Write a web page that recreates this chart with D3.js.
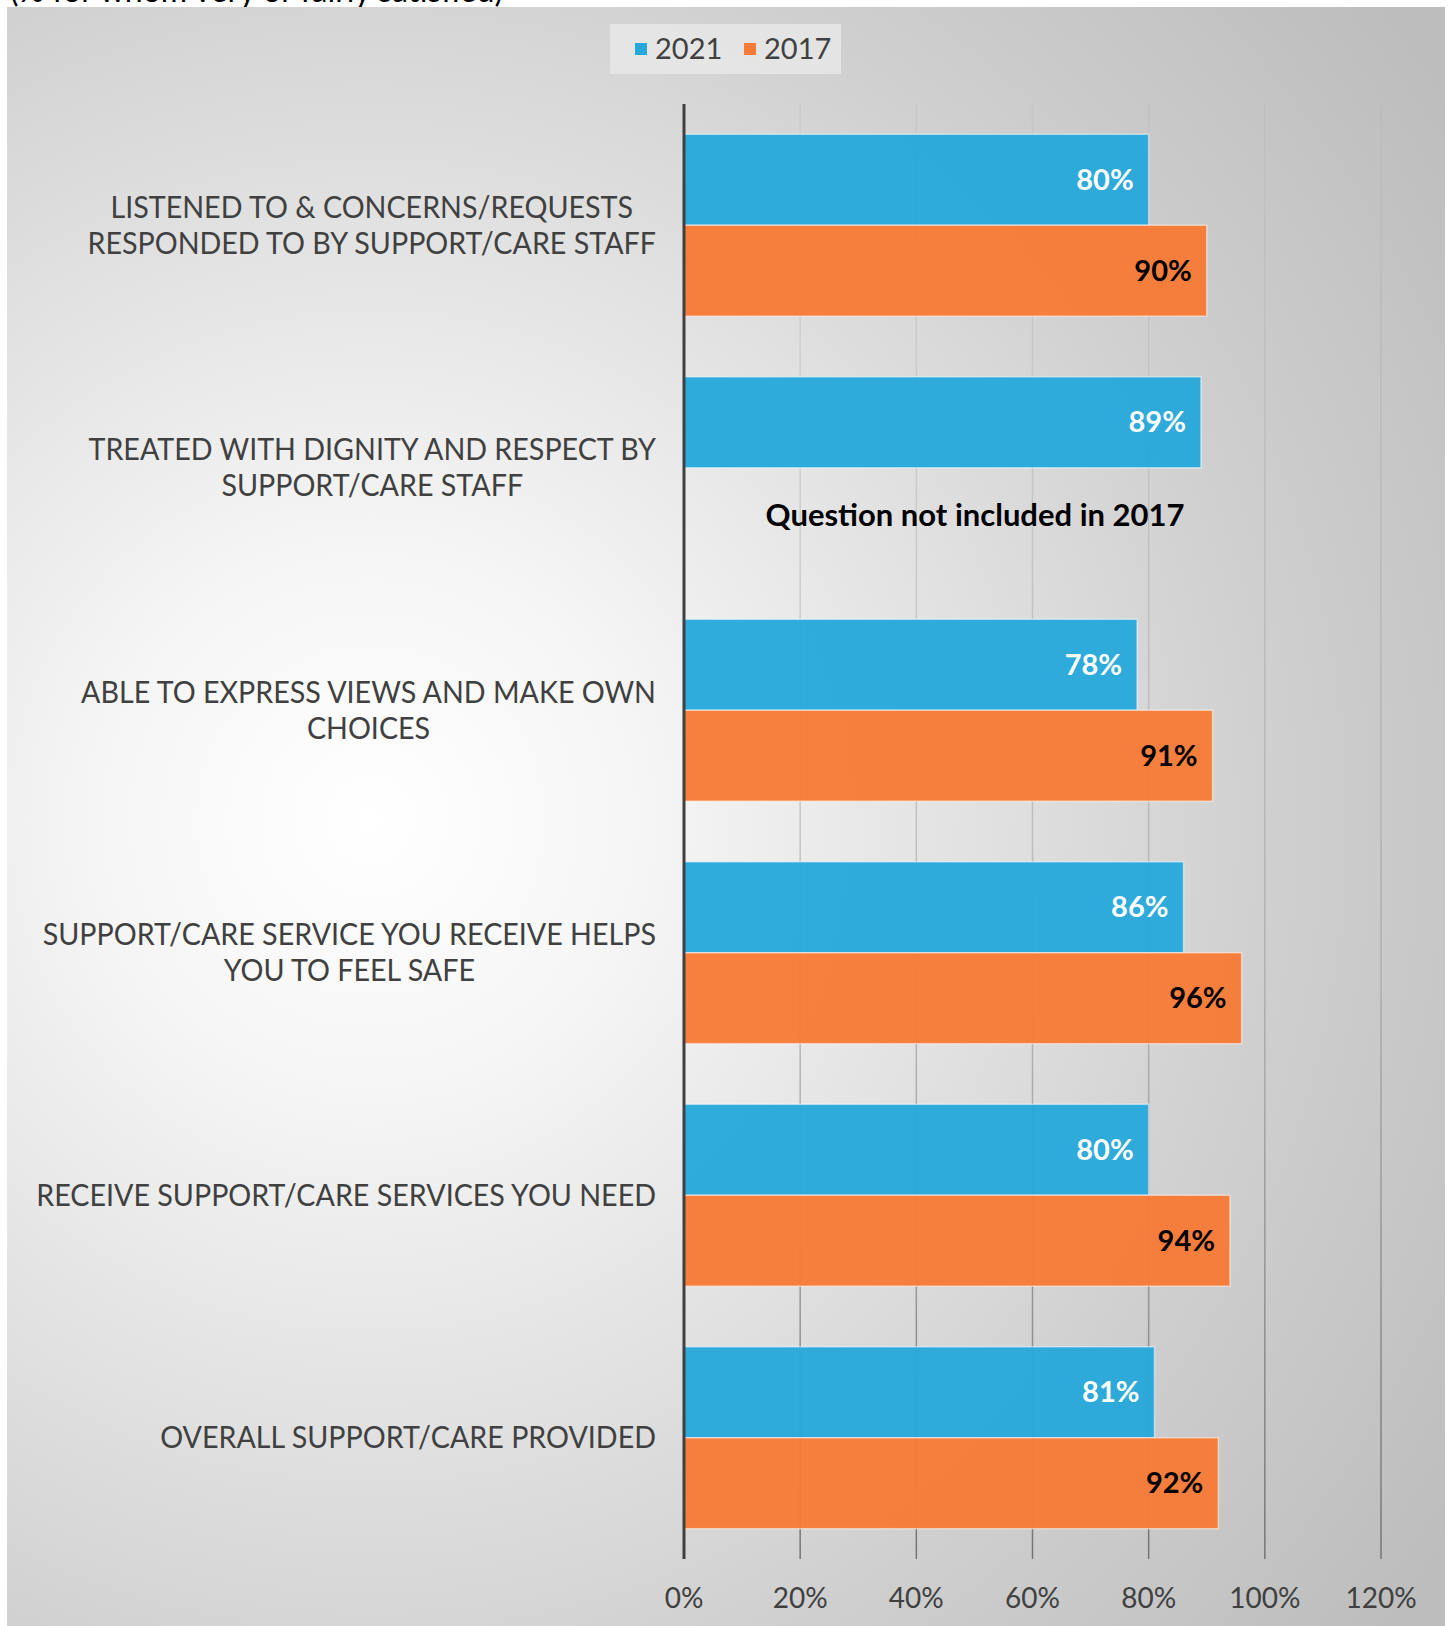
<!DOCTYPE html>
<html>
<head>
<meta charset="utf-8">
<script src="https://cdn.jsdelivr.net/npm/d3@7"></script>
<style>
  body { margin: 0; background: #fff; }
  text { font-family: Lato, "Open Sans", sans-serif; }
</style>
</head>
<body>
<div id="chart"></div>
<script>
// data
var categories = [
  "LISTENED TO & CONCERNS/REQUESTS RESPONDED TO BY SUPPORT/CARE STAFF",
  "TREATED WITH DIGNITY AND RESPECT BY SUPPORT/CARE STAFF",
  "ABLE TO EXPRESS VIEWS AND MAKE OWN CHOICES",
  "SUPPORT/CARE SERVICE YOU RECEIVE HELPS YOU TO FEEL SAFE",
  "RECEIVE SUPPORT/CARE SERVICES YOU NEED",
  "OVERALL SUPPORT/CARE PROVIDED"
];
var seriesNames = ["2021", "2017"];
var values2021 = [0.80, 0.89, 0.78, 0.86, 0.80, 0.81];
var values2017 = [0.90, null, 0.91, 0.96, 0.94, 0.92];
var xTicks = [0, 0.2, 0.4, 0.6, 0.8, 1.0, 1.2];
var missingNote = "Question not included in 2017";
var subtitle = "(% for whom very or fairly satisfied)";

var W = 1451, H = 1626;
var colors = { "2021": "#26a8db", "2017": "#f77b36" };
var labelColors = { "2021": "#ffffff", "2017": "#000000" };

var svg = d3.select("#chart").append("svg")
    .attr("width", W)
    .attr("height", H);

var defs = svg.append("defs");
var bg = defs.append("radialGradient")
    .attr("id", "bg")
    .attr("gradientUnits", "userSpaceOnUse")
    .attr("cx", 370).attr("cy", 820).attr("r", 1300);
bg.append("stop").attr("offset", 0).attr("stop-color", "#ffffff");
bg.append("stop").attr("offset", 0.2).attr("stop-color", "#f6f6f6");
bg.append("stop").attr("offset", 0.7).attr("stop-color", "#cfcfcf");
bg.append("stop").attr("offset", 1).attr("stop-color", "#bdbdbd");

var plotTop = 104, plotBottom = 1559;
var gg = defs.append("linearGradient")
    .attr("id", "grid")
    .attr("gradientUnits", "userSpaceOnUse")
    .attr("x1", 0).attr("y1", plotTop).attr("x2", 0).attr("y2", plotBottom);
gg.append("stop").attr("offset", 0).attr("stop-color", "#a0a0a0").attr("stop-opacity", 0.15);
gg.append("stop").attr("offset", 0.6).attr("stop-color", "#909090").attr("stop-opacity", 0.5);
gg.append("stop").attr("offset", 1).attr("stop-color", "#707070").attr("stop-opacity", 0.95);

// cut-off subtitle above the chart box
svg.append("text")
    .attr("x", 10).attr("y", 2)
    .attr("font-size", 32)
    .attr("fill", "#000")
    .text(subtitle);

svg.append("rect")
    .attr("x", 7).attr("y", 7)
    .attr("width", 1438).attr("height", H - 7)
    .attr("fill", "url(#bg)");

var x = d3.scaleLinear().domain([0, 1.2]).range([684, 1381]);
var y = d3.scaleBand().domain(categories).range([plotTop, plotBottom])
    .paddingInner(0.25).paddingOuter(0.125);
var ySub = d3.scaleBand().domain(seriesNames).range([0, y.bandwidth()]);

// gridlines
svg.append("g").selectAll("line")
  .data(xTicks.filter(function(d) { return d > 0; }))
  .enter().append("line")
    .attr("x1", function(d) { return x(d); })
    .attr("x2", function(d) { return x(d); })
    .attr("y1", plotTop).attr("y2", plotBottom)
    .attr("stroke", "url(#grid)")
    .attr("stroke-width", 1.5);

// bars
var rows = categories.map(function(c, i) {
  return { cat: c, vals: [
    { s: "2021", v: values2021[i] },
    { s: "2017", v: values2017[i] }
  ] };
});

var grp = svg.append("g").selectAll("g")
  .data(rows)
  .enter().append("g")
    .attr("transform", function(d) { return "translate(0," + y(d.cat) + ")"; });

var bar = grp.selectAll("g")
  .data(function(d) { return d.vals.filter(function(v) { return v.v != null; }); })
  .enter().append("g");

bar.append("rect")
    .attr("x", x(0))
    .attr("y", function(d) { return ySub(d.s); })
    .attr("width", function(d) { return x(d.v) - x(0); })
    .attr("height", ySub.bandwidth())
    .attr("fill", function(d) { return colors[d.s]; })
    .attr("fill-opacity", 0.96)
    .attr("stroke", "rgba(255,255,255,0.5)")
    .attr("stroke-width", 1.5);

bar.append("text")
    .attr("x", function(d) { return x(d.v) - 15; })
    .attr("y", function(d) { return ySub(d.s) + ySub.bandwidth() / 2; })
    .attr("dy", "0.35em")
    .attr("text-anchor", "end")
    .attr("font-size", 29)
    .attr("font-weight", "bold")
    .attr("fill", function(d) { return labelColors[d.s]; })
    .text(function(d) { return Math.round(d.v * 100) + "%"; });

// note for the missing 2017 value
rows.forEach(function(r) {
  r.vals.forEach(function(v) {
    if (v.v == null) {
      svg.append("text")
        .attr("x", 975)
        .attr("y", y(r.cat) + ySub(v.s) + ySub.bandwidth() / 2 + 2)
        .attr("dy", "0.35em")
        .attr("text-anchor", "middle")
        .attr("font-size", 31)
        .attr("font-weight", "bold")
        .attr("fill", "#000")
        .text(missingNote);
    }
  });
});

// vertical axis line
svg.append("line")
    .attr("x1", x(0)).attr("x2", x(0))
    .attr("y1", plotTop).attr("y2", plotBottom)
    .attr("stroke", "#404040")
    .attr("stroke-width", 3);

// x tick labels
svg.append("g").selectAll("text")
  .data(xTicks)
  .enter().append("text")
    .attr("x", function(d) { return x(d); })
    .attr("y", 1598)
    .attr("dy", "0.35em")
    .attr("text-anchor", "middle")
    .attr("font-size", 28)
    .attr("fill", "#404040")
    .text(function(d) { return Math.round(d * 100) + "%"; });

// category labels, wrapped, centred inside a right-aligned block
var squeeze = 0.955, maxW = 660, lineH = 36, labelRight = 656, labelSize = 30;
var meas = svg.append("text").attr("font-size", labelSize).attr("opacity", 0);
function tw(s) { meas.text(s); return meas.node().getComputedTextLength(); }

var labG = svg.append("g");
categories.forEach(function(c) {
  var words = c.split(" "), lines = [], cur = "";
  words.forEach(function(w) {
    var t = cur ? cur + " " + w : w;
    if (cur && tw(t) * squeeze > maxW) { lines.push(cur); cur = w; }
    else cur = t;
  });
  lines.push(cur);
  var widths = lines.map(function(l) { return tw(l) * squeeze; });
  var blockW = d3.max(widths);
  var cy = y(c) + y.bandwidth() / 2;
  lines.forEach(function(l, i) {
    labG.append("text")
      .attr("x", labelRight - blockW / 2)
      .attr("y", cy + (i - (lines.length - 1) / 2) * lineH)
      .attr("dy", "0.35em")
      .attr("text-anchor", "middle")
      .attr("font-size", labelSize)
      .attr("fill", "#404040")
      .attr("textLength", widths[i])
      .attr("lengthAdjust", "spacingAndGlyphs")
      .text(l);
  });
});
meas.remove();

// legend
var leg = svg.append("g");
leg.append("rect")
    .attr("x", 610).attr("y", 24)
    .attr("width", 231).attr("height", 50)
    .attr("fill", "#e8e8e8").attr("fill-opacity", 0.85);
var legX = [635, 744];
seriesNames.forEach(function(s, i) {
  leg.append("rect")
    .attr("x", legX[i]).attr("y", 43)
    .attr("width", 12).attr("height", 12)
    .attr("fill", colors[s]);
  leg.append("text")
    .attr("x", legX[i] + 20).attr("y", 49)
    .attr("dy", "0.35em")
    .attr("font-size", 29)
    .attr("fill", "#404040")
    .text(s);
});
</script>
</body>
</html>
